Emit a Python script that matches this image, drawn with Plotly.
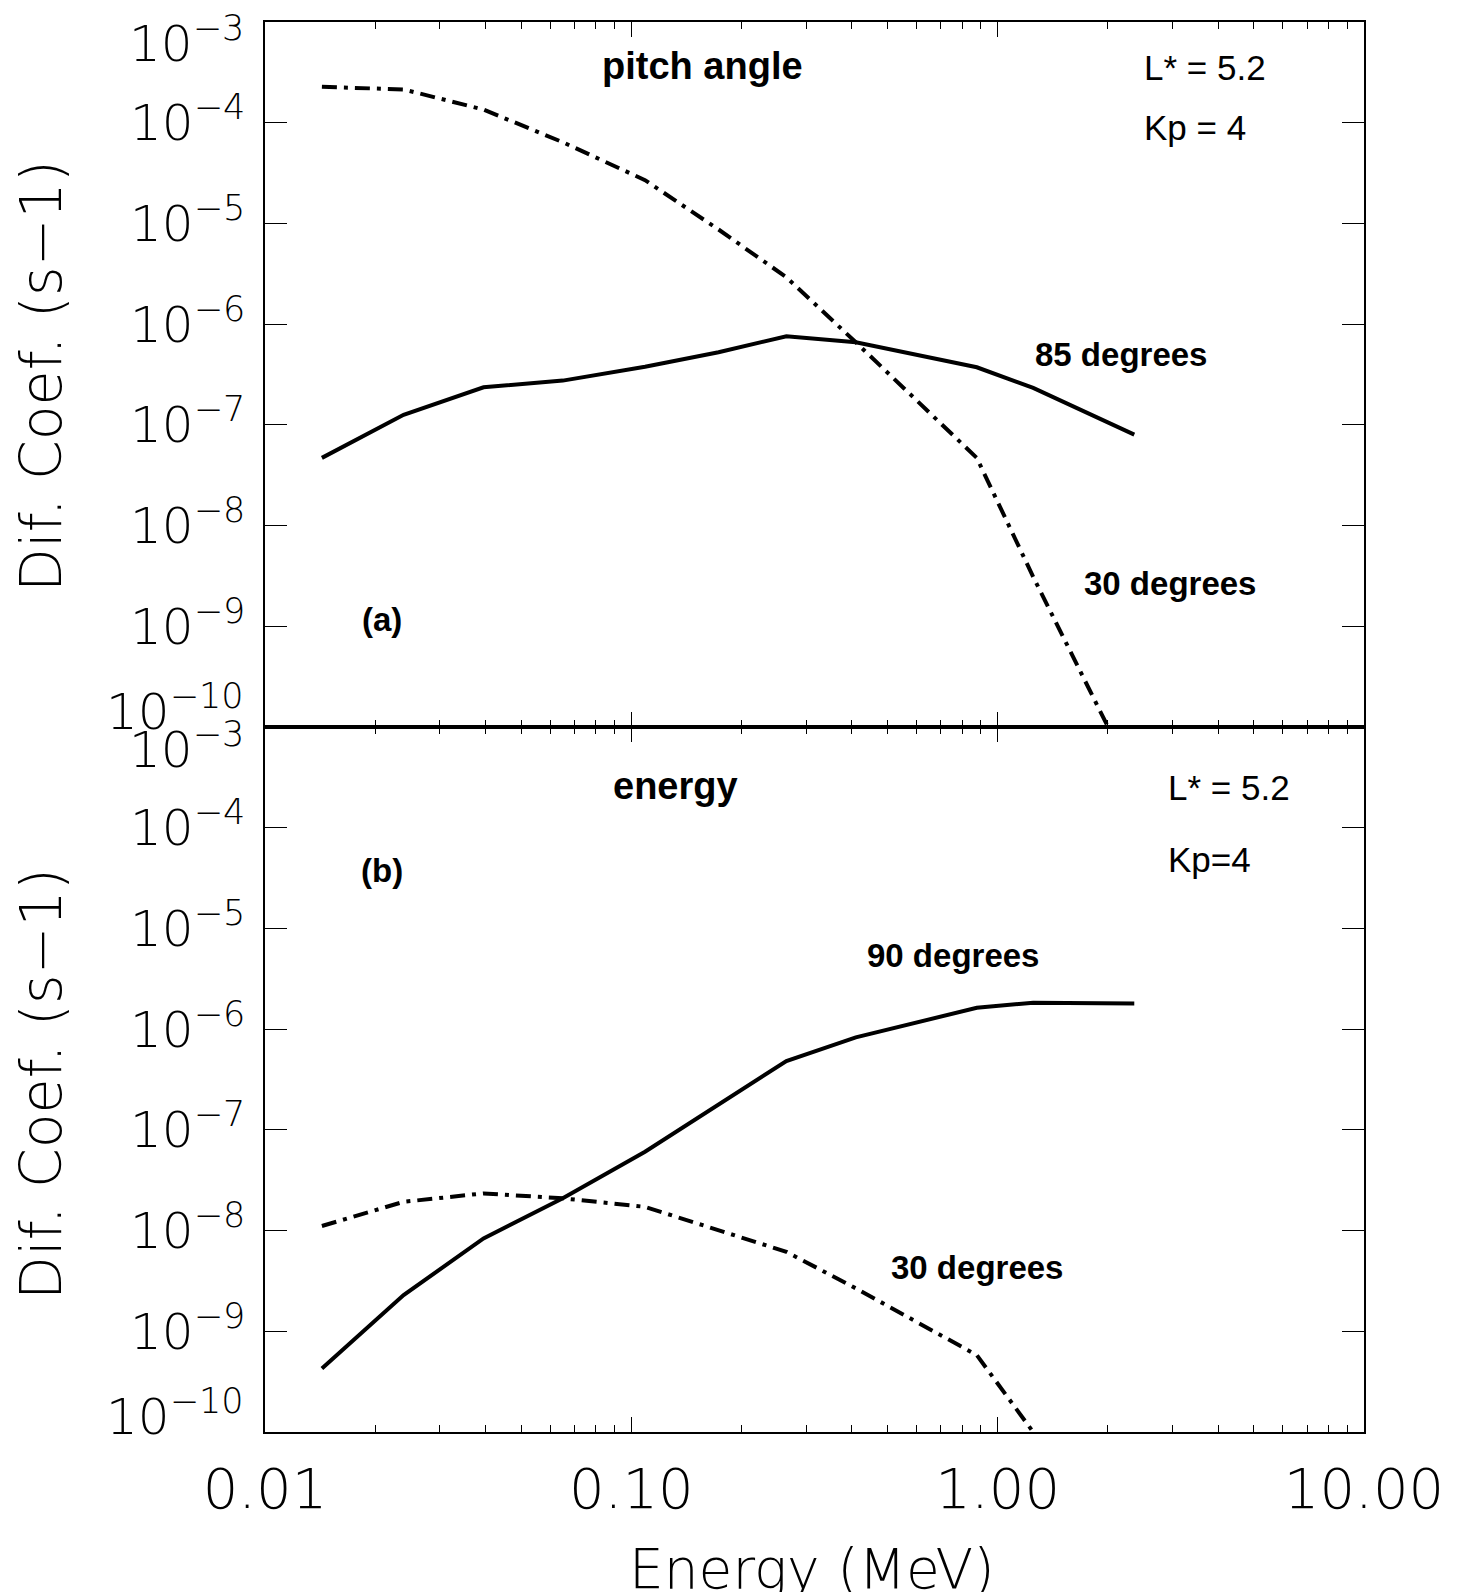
import plotly.graph_objects as go

# Electron energies (MeV) at which the coefficients were evaluated
energy_mev = [0.0143, 0.0239, 0.0395, 0.065, 0.109, 0.173, 0.265, 0.41, 0.877, 1.25, 2.36]

# (a) pitch-angle diffusion coefficients (s^-1)
pitch_85deg = [4.7e-8, 1.26e-7, 2.36e-7, 2.75e-7, 3.77e-7, 5.26e-7, 7.58e-7, 6.6e-7, 3.73e-7, 2.33e-7, 8.0e-8]
pitch_30deg = [2.27e-4, 2.14e-4, 1.35e-4, 6.4e-5, 2.69e-5, 8.7e-6, 2.92e-6, 6.6e-7, 4.7e-8, 3.1e-9, 3.0e-11]

# (b) energy diffusion coefficients (s^-1)
energy_90deg = [4.28e-10, 2.29e-9, 8.35e-9, 2.09e-8, 6.07e-8, 1.76e-7, 4.82e-7, 8.28e-7, 1.63e-6, 1.83e-6, 1.80e-6]
energy_30deg = [1.11e-8, 1.93e-8, 2.34e-8, 2.09e-8, 1.72e-8, 1.01e-8, 6.15e-9, 2.67e-9, 5.8e-10, 1.0e-10]

# Axis ticks
x_tick_vals = [0.01, 0.1, 1.0, 10.0]
x_tick_text = ["0.01", "0.10", "1.00", "10.00"]
y_exponents = [-3, -4, -5, -6, -7, -8, -9, -10]

W, H = 1458, 1592
ML, MR, MT, MB = 265, 94, 22, 160
PW, PH = W - ML - MR, H - MT - MB


def px(x):
    return (x - ML) / PW


def py(y):
    return (H - MB - y) / PH


def dec_label(n):
    return f"10<sup>\u2212{abs(n)}</sup>"


minor_x = [m * 10.0 ** e for e in (-2, -1, 0) for m in range(2, 10)]

THIN = dict(family="DejaVu Sans", weight=200, color="black")
TICK_Y = dict(THIN, size=50)
TICK_X = dict(THIN, size=56)

DASHDOT = "15px,7px,4px,7px"

fig = go.Figure()

# panel (a): pitch angle
fig.add_trace(go.Scatter(x=energy_mev, y=pitch_85deg, mode="lines", xaxis="x2", yaxis="y2",
                         line=dict(color="black", width=4)))
fig.add_trace(go.Scatter(x=energy_mev, y=pitch_30deg, mode="lines", xaxis="x2", yaxis="y2",
                         line=dict(color="black", width=4, dash=DASHDOT)))
# panel (b): energy
fig.add_trace(go.Scatter(x=energy_mev, y=energy_90deg, mode="lines", xaxis="x", yaxis="y",
                         line=dict(color="black", width=4)))
fig.add_trace(go.Scatter(x=energy_mev[:len(energy_30deg)], y=energy_30deg, mode="lines",
                         xaxis="x", yaxis="y", line=dict(color="black", width=4, dash=DASHDOT)))

common_x = dict(
    type="log", range=[-2, 1], showline=True, linecolor="black", linewidth=1.5,
    mirror="ticks", ticks="inside", ticklen=15, tickwidth=1.2, tickcolor="black",
    tickvals=x_tick_vals, showgrid=False, zeroline=False,
    minor=dict(tickvals=minor_x, ticks="inside", ticklen=7, tickwidth=1.2, tickcolor="black"),
)
mid_vals = [10.0 ** n for n in y_exponents]
mid_text = ["" if n in (-3, -10) else dec_label(n) for n in y_exponents]
common_y = dict(
    type="log", range=[-10, -3], showline=True, linecolor="black", linewidth=1.5,
    mirror="ticks", ticks="inside", ticklen=22, tickwidth=1.2, tickcolor="black",
    tickvals=mid_vals, ticktext=mid_text, showgrid=False, zeroline=False,
    ticklabelstandoff=8, tickfont=TICK_Y,
)

fig.update_layout(
    width=W, height=H,
    margin=dict(l=ML, r=MR, t=MT, b=MB, pad=0),
    paper_bgcolor="white", plot_bgcolor="white",
    showlegend=False,
    xaxis=dict(common_x, anchor="y", domain=[0, 1], ticktext=x_tick_text, tickfont=TICK_X,
               ticklabelstandoff=7),
    xaxis2=dict(common_x, anchor="y2", domain=[0, 1], matches="x", showticklabels=False),
    yaxis=dict(common_y, anchor="x", domain=[0, 0.5]),
    yaxis2=dict(common_y, anchor="x2", domain=[0.5, 1]),
)

ann = []
# end-of-axis decade labels, nudged inward from the frame corners
for panel_top, panel_bot in ((MT, MT + PH / 2), (MT + PH / 2, MT + PH)):
    ann.append(dict(x=px(246), y=py(panel_top + 19), text=dec_label(-3), font=TICK_Y,
                    xanchor="right", yanchor="middle"))
    ann.append(dict(x=px(246), y=py(panel_bot - 19), text=dec_label(-10), font=TICK_Y,
                    xanchor="right", yanchor="middle"))

# axis titles
for yc in (376, 1084):
    ann.append(dict(x=px(41), y=py(yc), text="Dif. Coef. (s\u22121)", textangle=-90,
                    font=dict(THIN, size=57), xanchor="center", yanchor="middle"))
ann.append(dict(x=px(812), y=py(1569), text="Energy (MeV)", font=dict(THIN, size=55),
                xanchor="center", yanchor="middle"))

BOLD = dict(family="Liberation Sans, Arial, sans-serif", weight="bold", color="black")
REG = dict(family="Liberation Sans, Arial, sans-serif", color="black")

labels = [
    ("pitch angle", 702, 66, "center", dict(BOLD, size=38)),
    ("L* = 5.2", 1142, 67.5, "left", dict(REG, size=35)),
    ("Kp = 4", 1142, 127.5, "left", dict(REG, size=35)),
    ("85 degrees", 1033, 355, "left", dict(BOLD, size=33)),
    ("30 degrees", 1082, 583, "left", dict(BOLD, size=33)),
    ("(a)", 382, 619, "center", dict(BOLD, size=33)),
    ("energy", 675, 786, "center", dict(BOLD, size=38)),
    ("L* = 5.2", 1165.5, 787, "left", dict(REG, size=35)),
    ("Kp=4", 1165.5, 859, "left", dict(REG, size=35)),
    ("(b)", 382, 870.5, "center", dict(BOLD, size=33)),
    ("90 degrees", 865, 955.5, "left", dict(BOLD, size=33)),
    ("30 degrees", 889, 1267.7, "left", dict(BOLD, size=33)),
]
for text, x, y, anchor, font in labels:
    ann.append(dict(x=px(x), y=py(y), text=text, font=font, xanchor=anchor, yanchor="middle"))

for a in ann:
    a.update(xref="paper", yref="paper", showarrow=False)
fig.update_layout(annotations=ann)

fig.write_html("out.html")
